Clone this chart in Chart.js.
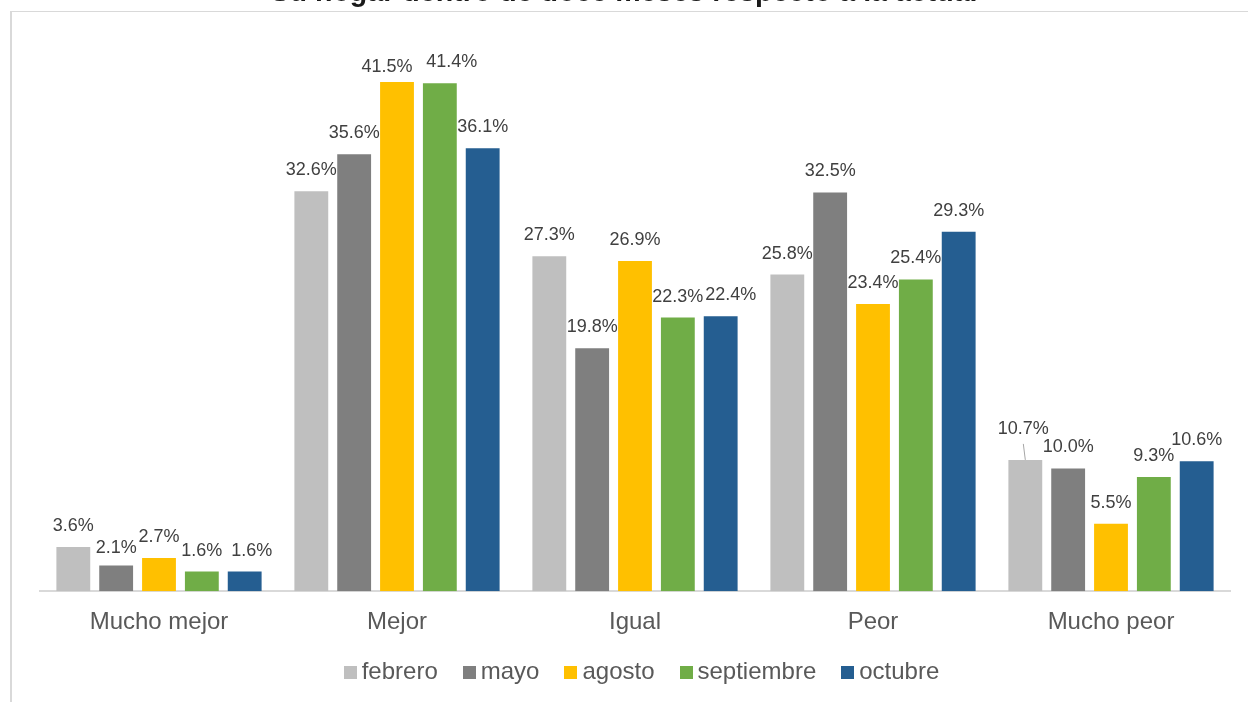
<!DOCTYPE html>
<html>
<head>
<meta charset="utf-8">
<script src="https://cdn.jsdelivr.net/npm/chart.js@4/dist/chart.umd.min.js"></script>
<style>
  html, body { margin:0; padding:0; background:#fff; overflow:hidden; }
  body { width:1248px; height:702px; position:relative; font-family:"Liberation Sans", Arial, sans-serif; }
  #frame { position:absolute; left:10px; top:11px; width:1300px; height:800px; border-top:1px solid #d9d9d9; border-left:2px solid #d9d9d9; box-sizing:border-box; }
  #c { position:absolute; left:0; top:0; }
  #legend { position:absolute; left:13px; width:1257px; top:657px; display:flex; justify-content:center; align-items:center; font-size:24px; line-height:28px; color:#595959; }
  #legend .item { display:flex; align-items:center; margin-right:25px; white-space:nowrap; }
  #legend .item:last-child { margin-right:0; }
  #legend .box { width:13px; height:13px; margin-right:5px; position:relative; top:1.5px; }
</style>
</head>
<body>
<div id="frame"></div>
<canvas id="c" width="1248" height="702"></canvas>
<div id="legend"></div>
<script>
// ---- data ----
const titleText = "Su hogar dentro de doce meses respecto a la actual";
const categories = ["Mucho mejor", "Mejor", "Igual", "Peor", "Mucho peor"];
const seriesNames = ["febrero", "mayo", "agosto", "septiembre", "octubre"];
const febrero    = [3.6, 32.6, 27.3, 25.8, 10.7];
const mayo       = [2.1, 35.6, 19.8, 32.5, 10.0];
const agosto     = [2.7, 41.5, 26.9, 23.4, 5.5];
const septiembre = [1.6, 41.4, 22.3, 25.4, 9.3];
const octubre    = [1.6, 36.1, 22.4, 29.3, 10.6];

// ---- styles ----
const seriesColors = ["#BFBFBF", "#7F7F7F", "#FFC000", "#70AD47", "#255E91"];
const FONT = '"Liberation Sans", Arial, sans-serif';
// label nudges: key "dataset-index" -> [dx, dy, leader]
const labelNudge = { "2-1": [-10, 6], "3-1": [12, 0], "1-0": [0, 4], "4-0": [7, 0], "0-4": [-2, -10, true], "4-2": [10, 0] };

const values = [febrero, mayo, agosto, septiembre, octubre];
const datasets = seriesNames.map((n, i) => ({
  label: n, data: values[i], backgroundColor: seriesColors[i], borderWidth: 0,
  categoryPercentage: 0.9, barPercentage: 0.79
}));

const titlePlugin = {
  id: 'clippedTitle',
  afterDraw(chart) {
    const ctx = chart.ctx;
    ctx.save();
    ctx.font = 'bold 28.6px ' + FONT;
    ctx.fillStyle = '#1a1a1a';
    ctx.textAlign = 'center';
    ctx.textBaseline = 'alphabetic';
    ctx.fillText(titleText, 624, 1);
    ctx.restore();
  }
};

const labelPlugin = {
  id: 'valueLabels',
  afterDatasetsDraw(chart) {
    const ctx = chart.ctx;
    ctx.save();
    ctx.font = '18px ' + FONT;
    ctx.fillStyle = '#404040';
    ctx.textAlign = 'center';
    ctx.textBaseline = 'middle';
    chart.data.datasets.forEach((ds, di) => {
      const meta = chart.getDatasetMeta(di);
      meta.data.forEach((bar, i) => {
        const v = ds.data[i];
        const nudge = labelNudge[di + '-' + i] || [0, 0];
        const x = bar.x + nudge[0];
        const y = bar.y - 21 + nudge[1];
        ctx.fillText(v.toFixed(1) + '%', x, y);
        if (nudge[2]) {
          ctx.strokeStyle = '#a6a6a6';
          ctx.lineWidth = 1;
          ctx.beginPath();
          ctx.moveTo(x, y + 15);
          ctx.lineTo(bar.x, bar.y);
          ctx.stroke();
        }
      });
    });
    ctx.restore();
  }
};

const chart = new Chart(document.getElementById('c'), {
  type: 'bar',
  data: { labels: categories, datasets },
  options: {
    responsive: false,
    animation: false,
    devicePixelRatio: 1,
    layout: { padding: { left: 40, right: 18, top: 39, bottom: 48 } },
    scales: {
      x: {
        grid: { display: false, drawTicks: false },
        border: { display: true, color: '#d9d9d9', width: 2 },
        ticks: { font: { family: FONT, size: 24 }, color: '#595959', padding: 17 }
      },
      y: { display: false, min: 0, max: 45 }
    },
    plugins: { legend: { display: false }, title: { display: false }, tooltip: { enabled: false } }
  },
  plugins: [labelPlugin, titlePlugin]
});

// HTML legend from chart datasets
const legendEl = document.getElementById('legend');
chart.data.datasets.forEach(ds => {
  const item = document.createElement('div');
  item.className = 'item';
  const box = document.createElement('span');
  box.className = 'box';
  box.style.background = ds.backgroundColor;
  const txt = document.createElement('span');
  txt.textContent = ds.label;
  item.appendChild(box); item.appendChild(txt);
  legendEl.appendChild(item);
});
</script>
</body>
</html>
